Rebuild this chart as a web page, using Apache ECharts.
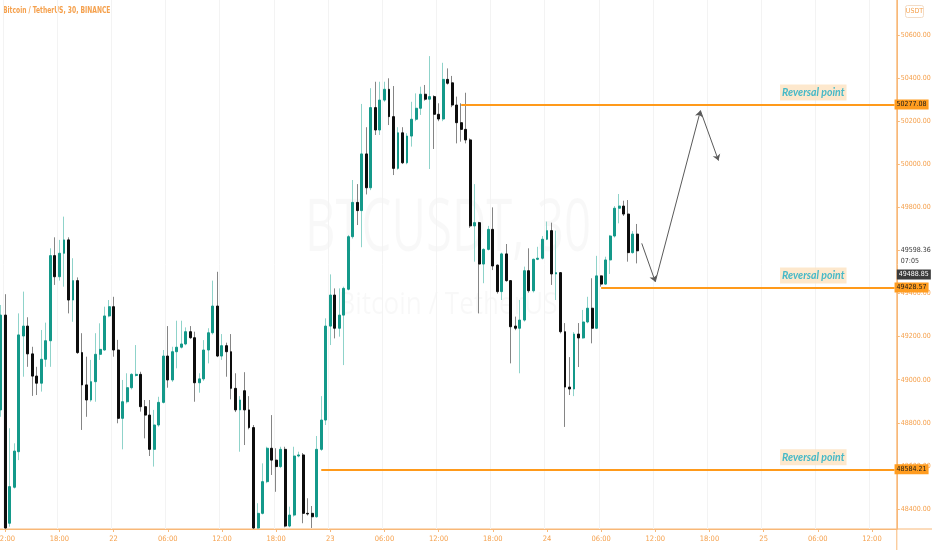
<!DOCTYPE html>
<html>
<head>
<meta charset="utf-8">
<script src="https://cdn.jsdelivr.net/npm/echarts@6/dist/echarts.min.js"></script>
<style>
  html, body { margin: 0; padding: 0; background: #fff; }
  #chart { width: 932px; height: 550px; }
</style>
</head>
<body>
<div id="chart"></div>
<script>
// BTCUSDT 30 min candles, first one is 21 11:30
var startDay = 21;
var startMinutes = 11 * 60 + 30;
var slotCount = 199;

var opens = [48860, 49300, 48334, 48501, 48666, 49203, 49249, 49120, 49017, 48984,
  49095, 49181, 49576, 49478, 49587, 49649, 49370, 49460, 49126, 48976,
  48906, 48991, 49118, 49138, 49296, 49339, 49138, 48821, 48898, 48963,
  49020, 49025, 48875, 48836, 48677, 48790, 48895, 49110, 48999, 49130,
  49151, 49166, 49223, 49195, 48986, 49004, 49138, 49218, 49342, 49110,
  49158, 49130, 48960, 48860, 48949, 48860, 48778, 48312, 48380, 48527,
  48682, 48627, 48597, 48677, 48321, 48372, 48646, 48651, 48380, 48380,
  48364, 48677, 48813, 49249, 49393, 49239, 49300, 49420, 49664, 49823,
  49785, 50048, 49891, 50263, 50159, 50298, 50348, 50221, 49981, 50146,
  50007, 50131, 50209, 50260, 50325, 50302, 50314, 50232, 50210, 50394,
  50378, 50275, 50193, 50162, 50113, 49714, 49729, 49537, 49605, 49698,
  49532, 49409, 49584, 49460, 49249, 49239, 49277, 49506, 49413, 49559,
  49564, 49652, 49692, 49491, 49497, 49223, 48966, 48957, 49212, 49194,
  49268, 49332, 49239, 49482, 49444, 49556, 49667, 49796, 49806, 49769,
  49590, 49676];
var closes = [49300, 48312, 48504, 48669, 49208, 49249, 49120, 49017, 48984, 49095,
  49181, 49576, 49478, 49587, 49649, 49370, 49460, 49126, 48976, 48906,
  48991, 49118, 49141, 49296, 49339, 49138, 48821, 48898, 48963, 49025,
  49025, 48875, 48836, 48677, 48790, 48895, 49110, 48999, 49130, 49151,
  49166, 49223, 49195, 48986, 49004, 49138, 49218, 49342, 49110, 49158,
  49130, 48960, 48860, 48906, 48860, 48778, 48312, 48380, 48527, 48682,
  48627, 48597, 48677, 48321, 48372, 48646, 48651, 48380, 48377, 48364,
  48677, 48813, 49249, 49393, 49239, 49300, 49424, 49664, 49823, 49785,
  50048, 49891, 50263, 50159, 50298, 50348, 50221, 49981, 50146, 50007,
  50131, 50209, 50260, 50325, 50302, 50314, 50232, 50210, 50394, 50376,
  50275, 50193, 50162, 50113, 49714, 49729, 49537, 49605, 49698, 49528,
  49409, 49584, 49460, 49246, 49239, 49277, 49506, 49413, 49559, 49564,
  49652, 49692, 49491, 49497, 49223, 48966, 48957, 49212, 49194, 49268,
  49332, 49239, 49482, 49444, 49556, 49667, 49796, 49806, 49769, 49590,
  49676, 49598.36];
var lows = [48828, 48308, 48318, 48495, 48627, 49014, 49060, 48925, 48929, 48945,
  49060, 49060, 49440, 49460, 49432, 49308, 49269, 49120, 48767, 48828,
  48898, 48898, 49092, 49135, 49290, 49107, 48798, 48677, 48890, 48955,
  49015, 48852, 48728, 48646, 48597, 48782, 48890, 48963, 48990, 49053,
  49145, 49160, 49190, 48898, 48940, 48995, 49076, 49210, 49105, 49092,
  49014, 48909, 48850, 48666, 48697, 48770, 48308, 48308, 48375, 48520,
  48558, 48480, 48590, 48315, 48315, 48365, 48640, 48334, 48370, 48312,
  48360, 48670, 48790, 49161, 49192, 49200, 49068, 49415, 49655, 49718,
  49615, 49860, 49880, 50136, 50136, 50290, 50182, 49950, 49975, 50001,
  50000, 50082, 50200, 50229, 50295, 49978, 50071, 50200, 50200, 50370,
  50265, 50097, 50105, 50097, 49705, 49548, 49308, 49448, 49600, 49509,
  49400, 49370, 49455, 49076, 49230, 49030, 49270, 49404, 49405, 49555,
  49558, 49648, 49440, 49370, 49215, 48781, 48929, 48924, 49059, 49190,
  49262, 49169, 49235, 49432, 49440, 49491, 49660, 49726, 49760, 49548,
  49585, 49540];
var highs = [49347, 49397, 48775, 48705, 49308, 49409, 49290, 49153, 49060, 49231,
  49265, 49610, 49661, 49649, 49757, 49661, 49564, 49475, 49216, 49107,
  49092, 49216, 49262, 49339, 49370, 49385, 49185, 48999, 49030, 49030,
  49161, 49037, 48906, 48906, 48860, 48921, 49138, 49249, 49153, 49274,
  49274, 49243, 49249, 49223, 49030, 49184, 49239, 49460, 49501, 49212,
  49172, 49212, 49030, 48924, 49035, 48924, 48790, 48427, 48612, 48689,
  48836, 48682, 48689, 48689, 48411, 48689, 48666, 48660, 48450, 48414,
  48739, 48924, 49285, 49489, 49424, 49424, 49432, 49672, 49927, 49908,
  50280, 50172, 50353, 50383, 50383, 50383, 50399, 50363, 50172, 50172,
  50144, 50290, 50329, 50360, 50368, 50502, 50320, 50283, 50471, 50445,
  50410, 50314, 50283, 50332, 50120, 49908, 49733, 49610, 49714, 49800,
  49535, 49590, 49630, 49462, 49293, 49370, 49525, 49610, 49562, 49617,
  49667, 49734, 49729, 49692, 49500, 49263, 49105, 49221, 49263, 49324,
  49385, 49471, 49575, 49484, 49571, 49672, 49806, 49862, 49831, 49834,
  49690, 49723];

var yTicks = [48400, 48600, 48800, 49000, 49200, 49400, 49600, 49800, 50000, 50200, 50400, 50600];
// 49600 label sits under the last price label, so it is not printed
var yLabels = [48400, 48600, 48800, 49000, 49200, 49400, 49800, 50000, 50200, 50400, 50600];
var yMin = 48307.3;
var yMax = 50762.4;

// Reversal levels and where each drawn line starts
var reversalPrices = [50277.08, 49428.57, 48584.21];
var reversalStarts = ['23 14:30', '24 06:00', '22 23:00'];
var reversalLabelTime = '25 05:30';

// Projected path (drawn arrows)
var pathTimes = ['24 10:30', '24 12:00', '24 17:00', '24 19:00'];
var pathPrices = [49633, 49455, 50249, 50017];

var lastPrice = 49598.36;
var countdown = '07:05';
var bidPrice = 49488.85;

var orange = '#f5a04c';
var axisOrange = '#f8b878';
var cond = "'DejaVu Sans Condensed', 'DejaVu Sans', sans-serif";

function pad(n) { return (n < 10 ? '0' : '') + n; }

var categories = [];
for (var i = 0; i < slotCount; i++) {
  var m = startMinutes + i * 30;
  var day = startDay + Math.floor(m / 1440);
  var mm = m % 1440;
  categories.push(day + ' ' + pad(Math.floor(mm / 60)) + ':' + pad(mm % 60));
}

function isMajor(idx, val) {
  var t = (val || categories[idx]).split(' ')[1];
  return t.slice(3) === '00' && parseInt(t.slice(0, 2), 10) % 6 === 0;
}

var wickData = [];
var bodyData = [];
for (var k = 0; k < opens.length; k++) {
  wickData.push([opens[k], closes[k], lows[k], highs[k]]);
  bodyData.push([opens[k], closes[k], Math.min(opens[k], closes[k]), Math.max(opens[k], closes[k])]);
}

var reversalLines = reversalPrices.map(function (p, i) {
  return [{
    coord: [reversalStarts[i], p],
    label: {
      show: true,
      position: 'end',
      distance: 0,
      formatter: p.toFixed(2),
      color: '#1a1a1a',
      backgroundColor: '#ff9c1f',
      padding: [2, 2, 1, 2],
      fontSize: 7,
      fontFamily: cond
    }
  }, {
    coord: [categories[slotCount - 1], p]
  }];
});

var pathLines = [];
for (var s = 0; s < pathTimes.length - 1; s++) {
  pathLines.push([
    { coord: [pathTimes[s], pathPrices[s]] },
    { coord: [pathTimes[s + 1], pathPrices[s + 1]] }
  ]);
}

var chart = echarts.init(document.getElementById('chart'));

chart.setOption({
  animation: false,
  backgroundColor: '#ffffff',
  grid: { left: -1.5, right: 35.2, top: 0, bottom: 21, outerBoundsMode: 'none', containLabel: false },
  graphic: [
    { type: 'text', x: 448, y: 230, scaleX: 0.64, z: -10, silent: true,
      style: { text: 'BTCUSDT, 30', x: 0, y: 0, align: 'center', verticalAlign: 'middle',
        fontSize: 74, fill: 'rgba(0,0,0,0.028)', fontFamily: 'Open Sans' } },
    { type: 'text', x: 448, y: 305, scaleX: 0.84, z: -10, silent: true,
      style: { text: 'Bitcoin / TetherUS', x: 0, y: 0, align: 'center', verticalAlign: 'middle',
        fontSize: 31, fill: 'rgba(0,0,0,0.028)', fontFamily: 'Open Sans' } },
    { type: 'text', x: 3, y: 11, scaleX: 0.74, silent: true,
      style: { text: 'Bitcoin / TetherUS, 30, BINANCE', x: 0, y: 0, verticalAlign: 'middle',
        fontSize: 9, fontWeight: 'bold', fill: orange, fontFamily: cond } },
    { type: 'line', shape: { x1: 896.8, y1: 0, x2: 896.8, y2: 550 }, style: { stroke: axisOrange, lineWidth: 1 } },
    { type: 'line', shape: { x1: 0, y1: 529, x2: 932, y2: 529 }, style: { stroke: axisOrange, lineWidth: 1 } },
    { type: 'rect', shape: { x: 905.5, y: 5.5, width: 18, height: 12, r: 2 },
      style: { fill: '#fff', stroke: '#f3dcc6', lineWidth: 1 } },
    { type: 'text', x: 914.5, y: 11.5,
      style: { text: 'USDT', fill: orange, fontSize: 7, fontFamily: cond, align: 'center', verticalAlign: 'middle' } }
  ],
  xAxis: {
    type: 'category',
    data: categories,
    axisLine: { show: true, lineStyle: { color: axisOrange } },
    axisTick: { show: true, alignWithLabel: true, interval: isMajor, length: 3, lineStyle: { color: axisOrange } },
    axisLabel: {
      interval: isMajor,
      color: orange,
      fontSize: 7.5,
      fontFamily: cond,
      margin: 6,
      formatter: function (val) {
        var parts = val.split(' ');
        return parts[1] === '00:00' ? parts[0] : parts[1];
      }
    },
    splitLine: { show: true, interval: isMajor, lineStyle: { color: '#f3f3f3', width: 1 } }
  },
  yAxis: {
    type: 'value',
    position: 'right',
    min: yMin,
    max: yMax,
    scale: true,
    axisLine: { show: true, lineStyle: { color: axisOrange } },
    axisTick: { show: true, length: 3, customValues: yTicks, lineStyle: { color: axisOrange } },
    axisLabel: {
      customValues: yLabels,
      color: orange,
      fontSize: 7,
      fontFamily: cond,
      margin: 4,
      formatter: function (v) { return v.toFixed(2); }
    },
    splitLine: { show: false }
  },
  series: [
    {
      name: 'wicks',
      type: 'candlestick',
      data: wickData,
      barWidth: 1,
      itemStyle: {
        color: '#8fd3ca',
        color0: '#858585',
        borderColor: '#8fd3ca',
        borderColor0: '#858585',
        borderWidth: 1
      }
    },
    {
      name: 'bodies',
      type: 'candlestick',
      data: bodyData,
      barWidth: 2.4,
      itemStyle: {
        color: '#14998a',
        color0: '#0d0d0d',
        borderColor: '#14998a',
        borderColor0: '#0d0d0d',
        borderWidth: 1
      },
      markLine: {
        silent: true,
        symbol: ['none', 'none'],
        lineStyle: { color: '#ff9a1a', width: 2, type: 'solid' },
        label: { show: false },
        data: reversalLines.concat([
          {
            yAxis: bidPrice,
            lineStyle: { color: 'rgba(0,0,0,0)', width: 0 },
            label: {
              show: true, position: 'end', distance: 0,
              formatter: bidPrice.toFixed(2),
              color: '#ffffff', backgroundColor: '#3b3b3b',
              padding: [2, 2, 1, 2], fontSize: 7, fontFamily: cond
            }
          },
          {
            yAxis: lastPrice,
            lineStyle: { color: 'rgba(0,0,0,0)', width: 0 },
            label: {
              show: true, position: 'end', distance: 4,
              formatter: lastPrice.toFixed(2) + '\n' + countdown,
              color: '#3a3a3a', fontSize: 7, lineHeight: 11, fontFamily: cond,
              offset: [0, 5]
            }
          }
        ])
      }
    },
    {
      name: 'path',
      type: 'line',
      data: [],
      markLine: {
        silent: true,
        symbol: ['none', 'arrow'],
        symbolSize: 6,
        lineStyle: { color: '#5a5a5a', width: 1, type: 'solid' },
        label: { show: false },
        data: pathLines
      }
    },
    {
      name: 'labels',
      type: 'scatter',
      symbolSize: 0,
      data: reversalPrices.map(function (p) { return [reversalLabelTime, p]; }),
      label: {
        show: true,
        position: 'top',
        distance: 4,
        formatter: 'Reversal point',
        color: '#18adc6',
        fontStyle: 'italic',
        fontWeight: 'bold',
        fontSize: 10.5,
        fontFamily: 'Lato',
        backgroundColor: '#fde2c0',
        padding: [3, 2, 2, 2]
      }
    }
  ]
});
</script>
</body>
</html>
